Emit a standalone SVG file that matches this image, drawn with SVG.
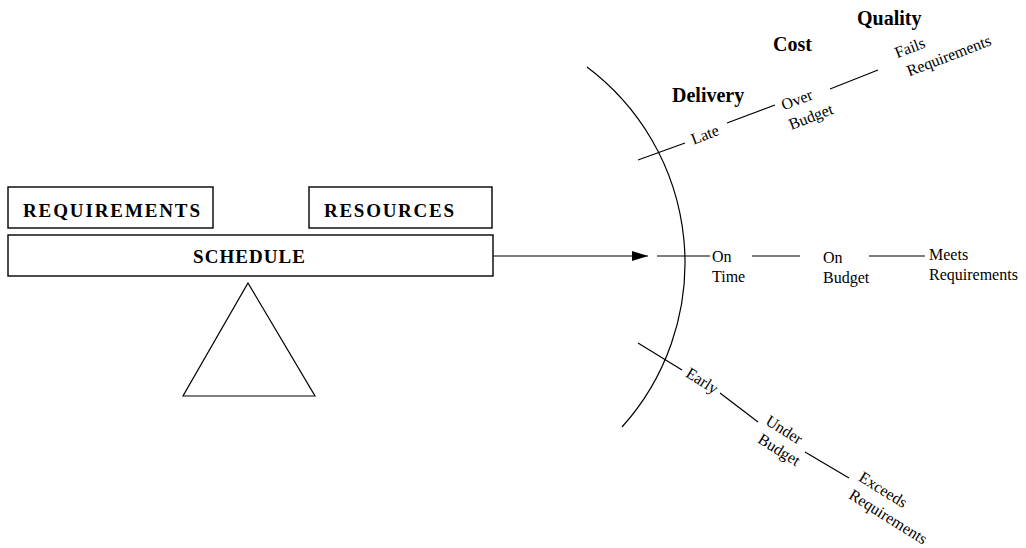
<svg xmlns="http://www.w3.org/2000/svg" width="1026" height="548" viewBox="0 0 1026 548">
  <style>
    .box { fill: #fff; stroke: #000; stroke-width: 1.4; }
    .ln { fill: none; stroke: #000; stroke-width: 1.2; }
    .hd { font-family: "Liberation Serif", "Times New Roman", serif; font-weight: bold; font-size: 20px; fill: #000; }
    .cap { font-family: "Liberation Serif", "Times New Roman", serif; font-weight: bold; font-size: 19px; fill: #000; }
    .lb { font-family: "Liberation Serif", "Times New Roman", serif; font-size: 16px; fill: #000; }
    .rl { font-family: "Liberation Serif", "Times New Roman", serif; font-size: 16px; fill: #000; text-anchor: middle; }
  </style>
  <defs>
    <marker id="arrow" viewBox="0 0 16 10" refX="16" refY="5" markerWidth="16" markerHeight="10" markerUnits="userSpaceOnUse" orient="auto">
      <path d="M0,0 L16,5 L0,10 Z" fill="#000"/>
    </marker>
  </defs>
  <rect width="1026" height="548" fill="#fff"/>

  <!-- balance: three blocks resting on a fulcrum -->
  <g id="requirements">
    <rect class="box" x="8" y="187" width="205" height="41"/>
    <text class="cap" x="23" y="217" textLength="177" lengthAdjust="spacing">REQUIREMENTS</text>
  </g>
  <g id="resources">
    <rect class="box" x="309" y="187" width="183" height="41"/>
    <text class="cap" x="324" y="217" textLength="130" lengthAdjust="spacing">RESOURCES</text>
  </g>
  <g id="schedule">
    <rect class="box" x="8" y="235" width="485" height="41"/>
    <text class="cap" x="193" y="263" textLength="112" lengthAdjust="spacing">SCHEDULE</text>
  </g>
  <g id="fulcrum">
    <polygon class="ln" points="248,283 315,396 183,396"/>
  </g>

  <!-- outcome boundary -->
  <g id="boundary">
    <path class="ln" d="M587,67 A245,245 0 0 1 622,427"/>
  </g>

  <!-- category headings -->
  <g id="headings">
    <text class="hd" x="672" y="102">Delivery</text>
    <text class="hd" x="773" y="51">Cost</text>
    <text class="hd" x="857" y="25">Quality</text>
  </g>

  <g id="connectors">
    <line class="ln" x1="493" y1="256" x2="648" y2="256" marker-end="url(#arrow)"/>
    <!-- upper branch -->
    <line class="ln" x1="638" y1="160" x2="685" y2="143"/>
    <line class="ln" x1="727" y1="123" x2="775" y2="105"/>
    <line class="ln" x1="830" y1="89" x2="878" y2="70"/>
    <!-- middle branch -->
    <line class="ln" x1="657" y1="256" x2="710" y2="256"/>
    <line class="ln" x1="752" y1="256" x2="800" y2="256"/>
    <line class="ln" x1="869" y1="256" x2="925" y2="256"/>
    <!-- lower branch -->
    <line class="ln" x1="638" y1="343" x2="682" y2="370"/>
    <line class="ln" x1="720" y1="393" x2="758" y2="422"/>
    <line class="ln" x1="805" y1="452" x2="849" y2="478"/>
  </g>

  <!-- late / over budget / fails requirements -->
  <g id="upper-outcomes">
    <text class="rl" transform="translate(705,135) rotate(-21)" y="5">Late</text>
    <text class="rl" transform="translate(797,100) rotate(-21)" y="5">Over</text>
    <text class="rl" transform="translate(811,117) rotate(-21)" y="5">Budget</text>
    <text class="rl" transform="translate(910,48) rotate(-21)" y="5">Fails</text>
    <text class="rl" transform="translate(949,56) rotate(-21)" y="5">Requirements</text>
  </g>

  <!-- on time / on budget / meets requirements -->
  <g id="middle-outcomes">
    <text class="lb" x="712" y="262">On</text>
    <text class="lb" x="712" y="282">Time</text>
    <text class="lb" x="823" y="263">On</text>
    <text class="lb" x="823" y="283">Budget</text>
    <text class="lb" x="929" y="260">Meets</text>
    <text class="lb" x="929" y="280">Requirements</text>
  </g>

  <!-- early / under budget / exceeds requirements -->
  <g id="lower-outcomes">
    <text class="rl" transform="translate(702,381) rotate(32)" y="5">Early</text>
    <text class="rl" transform="translate(784,430) rotate(32)" y="5">Under</text>
    <text class="rl" transform="translate(779,450) rotate(32)" y="5">Budget</text>
    <text class="rl" transform="translate(883,490) rotate(32)" y="5">Exceeds</text>
    <text class="rl" transform="translate(888,517) rotate(32)" y="5">Requirements</text>
  </g>
</svg>
